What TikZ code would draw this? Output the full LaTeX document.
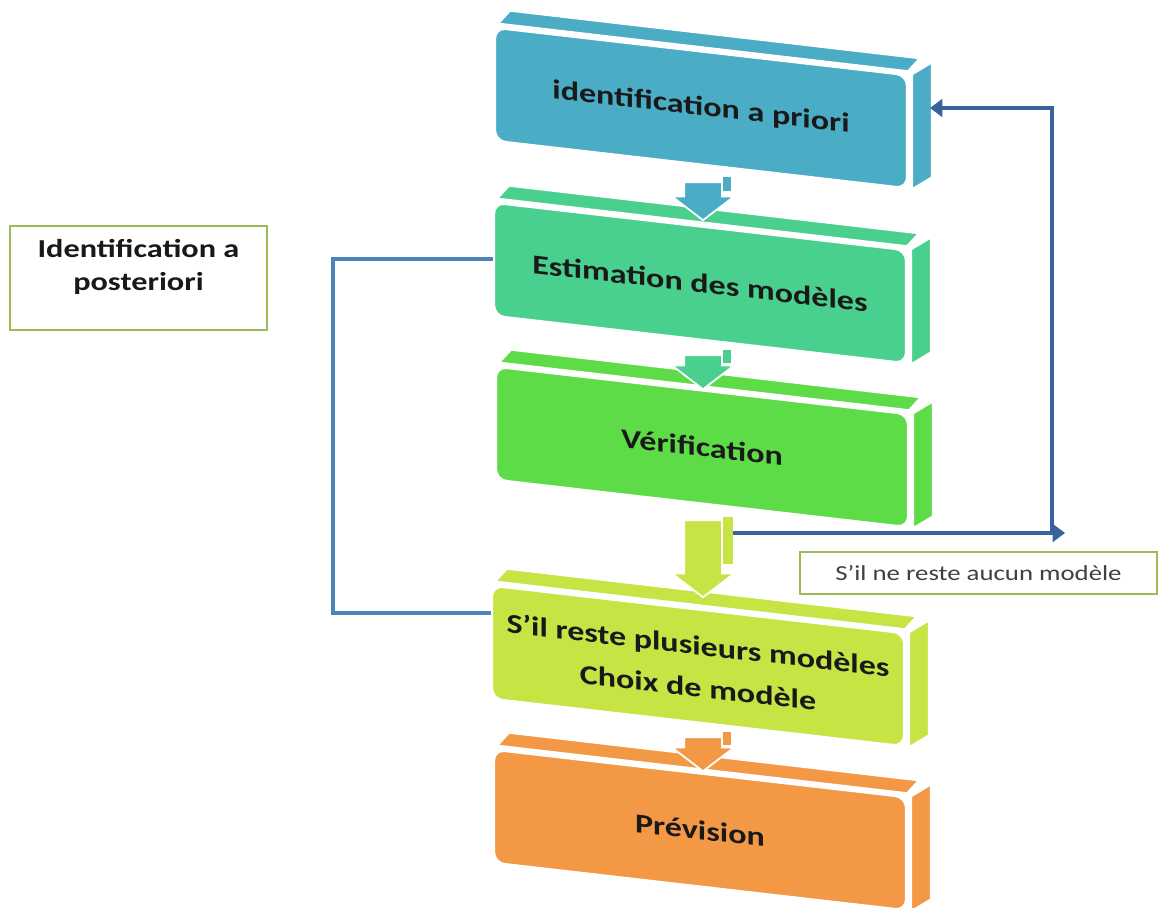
\documentclass[tikz,border=0pt]{standalone}
\usepackage{fontspec}
\setmainfont{Carlito}[FakeStretch=1.25]
\usetikzlibrary{shapes.arrows,arrows.meta,calc,backgrounds}

\definecolor{stepblue}{RGB}{75,172,198}
\definecolor{stepteal}{RGB}{74,208,142}
\definecolor{stepgreen}{RGB}{94,220,72}
\definecolor{steplime}{RGB}{198,228,68}
\definecolor{steporange}{RGB}{243,153,70}
\definecolor{labelolive}{RGB}{155,187,89}
\definecolor{loopblue}{RGB}{79,129,189}
\definecolor{backblue}{RGB}{58,96,158}

% top and right faces behind a step box
\newcommand{\boxsides}[2]{%
  \begin{scope}[on background layer]
    \filldraw[fill=#2, draw=white, line width=1.2pt] ($(#1.north west)+(4,-3)$) -- ++(12,-13) -- ($(#1.north east)+(12,-16)$) -- ($(#1.north east)+(0,-3)$) -- cycle;
    \filldraw[fill=#2, draw=white, line width=1.2pt] ($(#1.north east)+(4,0)$) -- ++(20,-12) -- ($(#1.south east)+(24,-12)$) -- ($(#1.south east)+(4,0)$) -- cycle;
  \end{scope}}

\begin{document}
\begin{tikzpicture}[
    x=0.02cm, y=-0.02cm,
    stepbox/.style={rectangle, rounded corners=6pt, draw=white, line width=1.2pt, minimum width=8.24cm, minimum height=2.26cm, inner sep=0pt, yslant=-0.115, align=center, font=\fontsize{15.5}{24}\selectfont\bfseries, text=black!90},
    flowarrow/.style={single arrow, rotate=-90, minimum width=1.2cm, single arrow head extend=0.24cm, single arrow tip angle=105, inner xsep=0pt, inner ysep=0.36cm, draw=white, line width=1pt},
    labelbox/.style={rectangle, draw=labelolive, line width=1.2pt, fill=white, inner sep=0pt, align=center},
    loopline/.style={draw=loopblue, line width=2.2pt},
    backline/.style={draw=backblue, line width=2.4pt, -{Triangle[length=7pt,width=10pt]}}
]
\useasboundingbox (0,0) rectangle (1158,908);

% Step boxes
\node[stepbox, fill=stepblue] (ident) at (701,108) {identification a priori};
\node[stepbox, fill=stepteal] (estim) at (700,283) {Estimation des mod\`eles};
\node[stepbox, fill=stepgreen] (verif) at (702,447) {V\'erification};
\node[stepbox, fill=steplime] (choix) at (698,666) {S'il reste plusieurs mod\`eles\\Choix de mod\`ele};
\node[stepbox, fill=steporange] (prev) at (700,830) {Pr\'evision};

\boxsides{ident}{stepblue}
\boxsides{estim}{stepteal}
\boxsides{verif}{stepgreen}
\boxsides{choix}{steplime}
\boxsides{prev}{steporange}

% Block arrows between steps
\fill[stepblue] (723,177) rectangle (731,191);
\node[flowarrow, fill=stepblue, minimum height=0.76cm] (a12) at (703,194) {};
\fill[stepteal] (723,350) rectangle (731,363);
\node[flowarrow, fill=stepteal, minimum height=0.68cm] (a23) at (703,365) {};
\fill[steplime] (723,517) rectangle (733,564);
\node[flowarrow, fill=steplime, minimum height=1.54cm] (a34) at (703,551.5) {};
\fill[steporange] (723,732) rectangle (731,745);
\node[flowarrow, fill=steporange, minimum height=0.68cm] (a45) at (703,747) {};

% Feedback when no model is left
\coordinate (nomodel) at (733,533);
\coordinate (nomodelend) at (1065,533);
\coordinate (corner) at (1052,533);
\coordinate (backtop) at (930,108);
\draw[backline] (nomodel) -- (nomodelend);
\draw[backline] (corner) |- (backtop);

% A posteriori loop
\draw[loopline] (estim.west) -- ++(-160,0) |- ([yshift=0.58cm]choix.west);

% Labels
\node[labelbox, minimum width=5.14cm, minimum height=2.08cm, font=\fontsize{14.7}{19}\selectfont\bfseries, text=black!90] (posteriori) at (138.5,278) {Identification a\\posteriori\\[-4pt]~};
\node[labelbox, minimum width=7.14cm, minimum height=0.84cm, font=\fontsize{12.2}{15}\selectfont, text=black!75] (aucun) at (978.5,573) {S'il ne reste aucun mod\`ele};

\end{tikzpicture}
\end{document}
